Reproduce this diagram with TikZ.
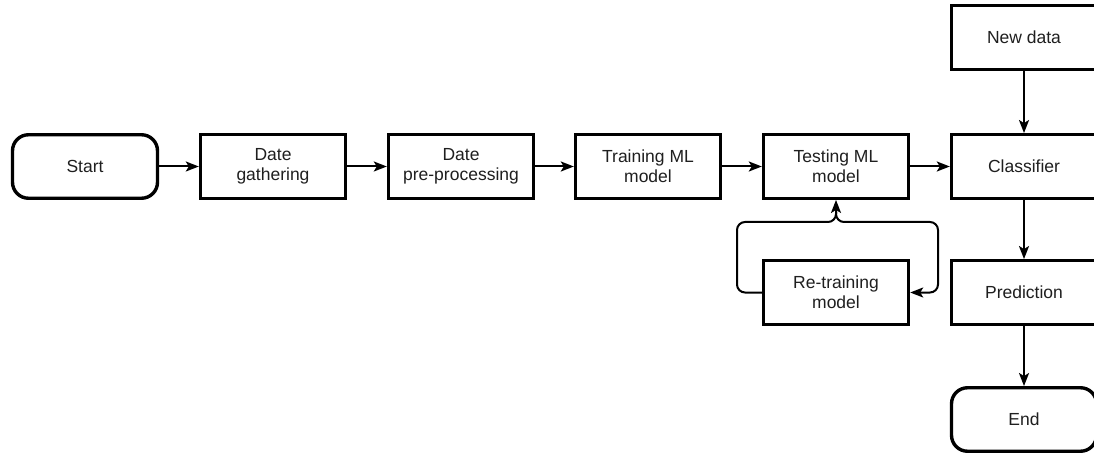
\documentclass[tikz,border=0pt]{standalone}
\usepackage{fontspec}
\setmainfont{Liberation Sans}
\usetikzlibrary{arrows.meta}
\begin{document}
\begin{tikzpicture}[x=1pt,y=-1pt,
  box/.style={draw=black, line width=3.4pt, minimum width=145pt, minimum height=63.5pt, inner sep=0pt,
    align=center, font=\fontsize{17.5}{20}\selectfont, text=black!88, fill=white},
  term/.style={box, rounded corners=16pt},
  tip/.style={-{Stealth[length=13pt,width=10pt,inset=3pt]}},
  conn/.style={line width=2pt, tip},
  loop/.style={line width=2pt, rounded corners=8pt}]
\useasboundingbox (0,0) rectangle (1094,454);
\node[term] (start) at (85,166.5) {Start};
\node[box] (gather) at (273,166.5) {Date\\gathering};
\node[box] (pre) at (461,166.5) {Date\\pre-processing};
\node[box] (train) at (648,166.5) {Training ML\\model};
\node[box] (test) at (836,166.5) {Testing ML\\model};
\node[box] (clf) at (1024,166.5) {Classifier};
\node[box] (new) at (1024,37.5) {New data};
\node[box] (pred) at (1024,292.5) {Prediction};
\node[term] (end) at (1024,419.5) {End};
\node[box] (retrain) at (836,292.5) {Re-training\\model};
\coordinate (jn) at (836,222);
\coordinate (jt) at (836,212);
\draw[conn] (start) -- (gather);
\draw[conn] (gather) -- (pre);
\draw[conn] (pre) -- (train);
\draw[conn] (train) -- (test);
\draw[conn] (test) -- (clf);
\draw[conn] (new) -- (clf);
\draw[conn] (clf) -- (pred);
\draw[conn] (pred) -- (end);
\draw[loop, tip] (retrain.west) -- (737,292.5) |- (jn) -- (test.south);
\draw[loop, tip] (jt) -- (jn) -- (938,222) |- (retrain.east);
\end{tikzpicture}
\end{document}
